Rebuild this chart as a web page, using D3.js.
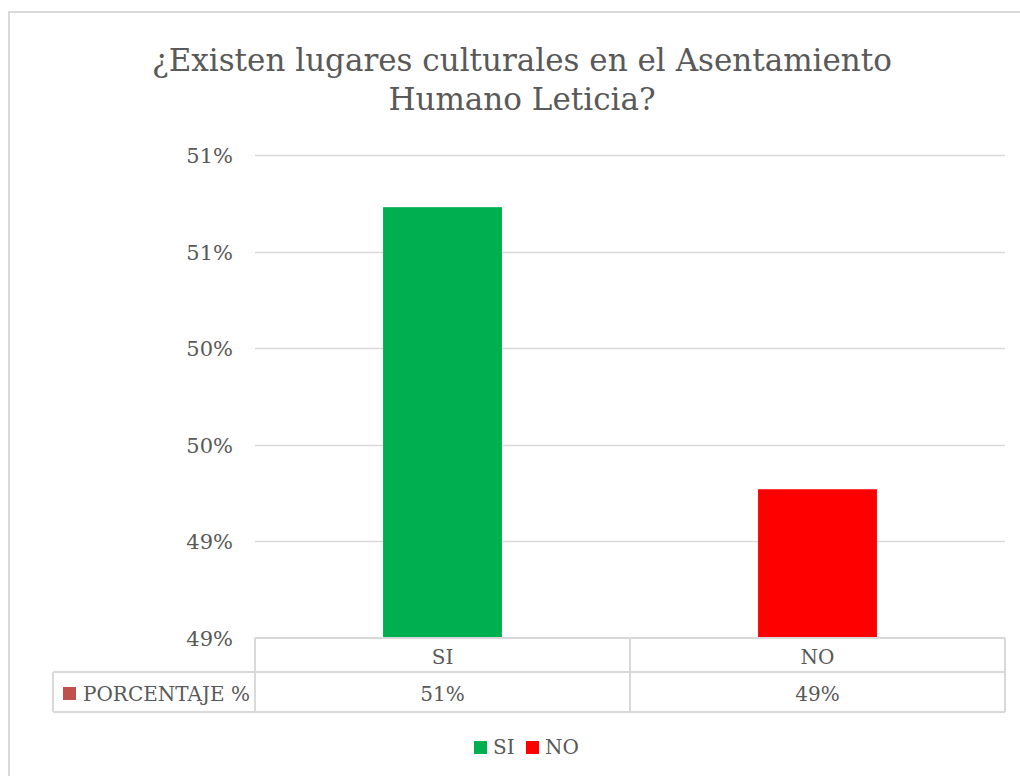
<!DOCTYPE html>
<html>
<head>
<meta charset="utf-8">
<script src="https://cdn.jsdelivr.net/npm/d3@7"></script>
<style>
  body { margin: 0; background: #fff; }
  svg text { font-family: 'DejaVu Serif', 'Liberation Serif', serif; }
</style>
</head>
<body>
<div id="chart"></div>
<script>
// Chart data
var categories = ["SI", "NO"];
var values = [0.5073, 0.4927];
var tableLabels = ["51%", "49%"];
var barColors = ["#00b050", "#ff0000"];
var seriesName = "PORCENTAJE %";
var tickValues = [0.485, 0.49, 0.495, 0.5, 0.505, 0.51];
var tickLabels = ["49%", "49%", "50%", "50%", "51%", "51%"];
var titleLines = ["¿Existen lugares culturales en el Asentamiento", "Humano Leticia?"];

var W = 1020, H = 776;
var plot = { left: 255, right: 1005, top: 155, bottom: 638 };
var rowH = [34, 40];
var tableLeft = 53;
var textColor = "#595959";
var lineColor = "#d9d9d9";
var fontSize = "20px";

var svg = d3.select("#chart").append("svg")
  .attr("width", W)
  .attr("height", H);

// Outer chart border (runs off the right and bottom edges)
svg.append("rect")
  .attr("x", 9).attr("y", 12)
  .attr("width", W + 20).attr("height", H + 20)
  .attr("fill", "#fff")
  .attr("stroke", lineColor)
  .attr("stroke-width", 2);

// Title
svg.append("text")
  .attr("text-anchor", "middle")
  .attr("fill", textColor)
  .style("font-size", "31px")
  .selectAll("tspan")
  .data(titleLines)
  .enter()
  .append("tspan")
  .attr("x", 522)
  .attr("y", function (d, i) { return 71 + i * 39; })
  .text(function (d) { return d; });

// Scales
var x = d3.scaleBand()
  .domain(categories)
  .range([plot.left, plot.right])
  .paddingInner(0.683)
  .paddingOuter(0.3415);

var y = d3.scaleLinear()
  .domain([0.485, 0.51])
  .range([plot.bottom, plot.top]);

// Gridlines
svg.append("g")
  .selectAll("line")
  .data(tickValues.slice(1))
  .enter()
  .append("line")
  .attr("x1", plot.left)
  .attr("x2", plot.right)
  .attr("y1", function (d) { return Math.round(y(d)) + 0.5; })
  .attr("y2", function (d) { return Math.round(y(d)) + 0.5; })
  .attr("stroke", lineColor)
  .attr("stroke-width", 1.5);

// Y axis labels
var yAxis = svg.append("g")
  .attr("transform", "translate(" + (plot.left - 22) + ",0)")
  .call(d3.axisLeft(y)
    .tickValues(tickValues)
    .tickSize(0)
    .tickPadding(0)
    .tickFormat(function (d, i) { return tickLabels[i]; }));
yAxis.attr("font-family", null).attr("font-size", null);
yAxis.select(".domain").remove();
yAxis.selectAll("text")
  .attr("fill", textColor)
  .attr("dy", "0.36em")
  .style("font-size", "21px");

// Bars
svg.append("g")
  .selectAll("rect")
  .data(values)
  .enter()
  .append("rect")
  .attr("x", function (d, i) { return x(categories[i]); })
  .attr("width", x.bandwidth())
  .attr("y", function (d) { return y(d); })
  .attr("height", function (d) { return y(0.485) - y(d); })
  .attr("fill", function (d, i) { return barColors[i]; });

// Data table
var table = svg.append("g")
  .attr("stroke", lineColor)
  .attr("stroke-width", 2)
  .attr("fill", "none");

var row1 = plot.bottom + rowH[0];
var row2 = row1 + rowH[1];
var step = x.step();
var colEdges = categories.map(function (c) { return x(c) + x.bandwidth() / 2 - step / 2; });
colEdges.push(plot.right);

// horizontal lines
table.append("line").attr("x1", plot.left).attr("x2", plot.right).attr("y1", plot.bottom).attr("y2", plot.bottom);
table.append("line").attr("x1", tableLeft).attr("x2", plot.right).attr("y1", row1).attr("y2", row1);
table.append("line").attr("x1", tableLeft).attr("x2", plot.right).attr("y1", row2).attr("y2", row2);
// vertical lines
table.append("line").attr("x1", tableLeft).attr("x2", tableLeft).attr("y1", row1).attr("y2", row2);
table.selectAll(".vcol")
  .data(colEdges)
  .enter()
  .append("line")
  .attr("x1", function (d) { return d; })
  .attr("x2", function (d) { return d; })
  .attr("y1", plot.bottom)
  .attr("y2", row2);

// header row: categories
svg.append("g")
  .selectAll("text")
  .data(categories)
  .enter()
  .append("text")
  .attr("x", function (d) { return x(d) + x.bandwidth() / 2; })
  .attr("y", plot.bottom + 26)
  .attr("text-anchor", "middle")
  .attr("fill", textColor)
  .style("font-size", fontSize)
  .text(function (d) { return d; });

// value row
svg.append("g")
  .selectAll("text")
  .data(tableLabels)
  .enter()
  .append("text")
  .attr("x", function (d, i) { return x(categories[i]) + x.bandwidth() / 2; })
  .attr("y", row1 + 29)
  .attr("text-anchor", "middle")
  .attr("fill", textColor)
  .style("font-size", fontSize)
  .text(function (d) { return d; });

// series key in table
svg.append("rect")
  .attr("x", 63).attr("y", row1 + 15)
  .attr("width", 13).attr("height", 13)
  .attr("fill", "#c0504d");
svg.append("text")
  .attr("x", 83)
  .attr("y", row1 + 29)
  .attr("fill", textColor)
  .style("font-size", fontSize)
  .text(seriesName);

// Legend
var legend = svg.append("g")
  .attr("transform", "translate(474,747)");
var legendX = [0, 52];
var items = legend.selectAll("g")
  .data(categories)
  .enter()
  .append("g")
  .attr("transform", function (d, i) { return "translate(" + legendX[i] + ",0)"; });
items.append("rect")
  .attr("x", 0).attr("y", -6)
  .attr("width", 13).attr("height", 13)
  .attr("fill", function (d, i) { return barColors[i]; });
items.append("text")
  .attr("x", 19)
  .attr("y", 7)
  .attr("fill", textColor)
  .style("font-size", fontSize)
  .text(function (d) { return d; });
</script>
</body>
</html>
